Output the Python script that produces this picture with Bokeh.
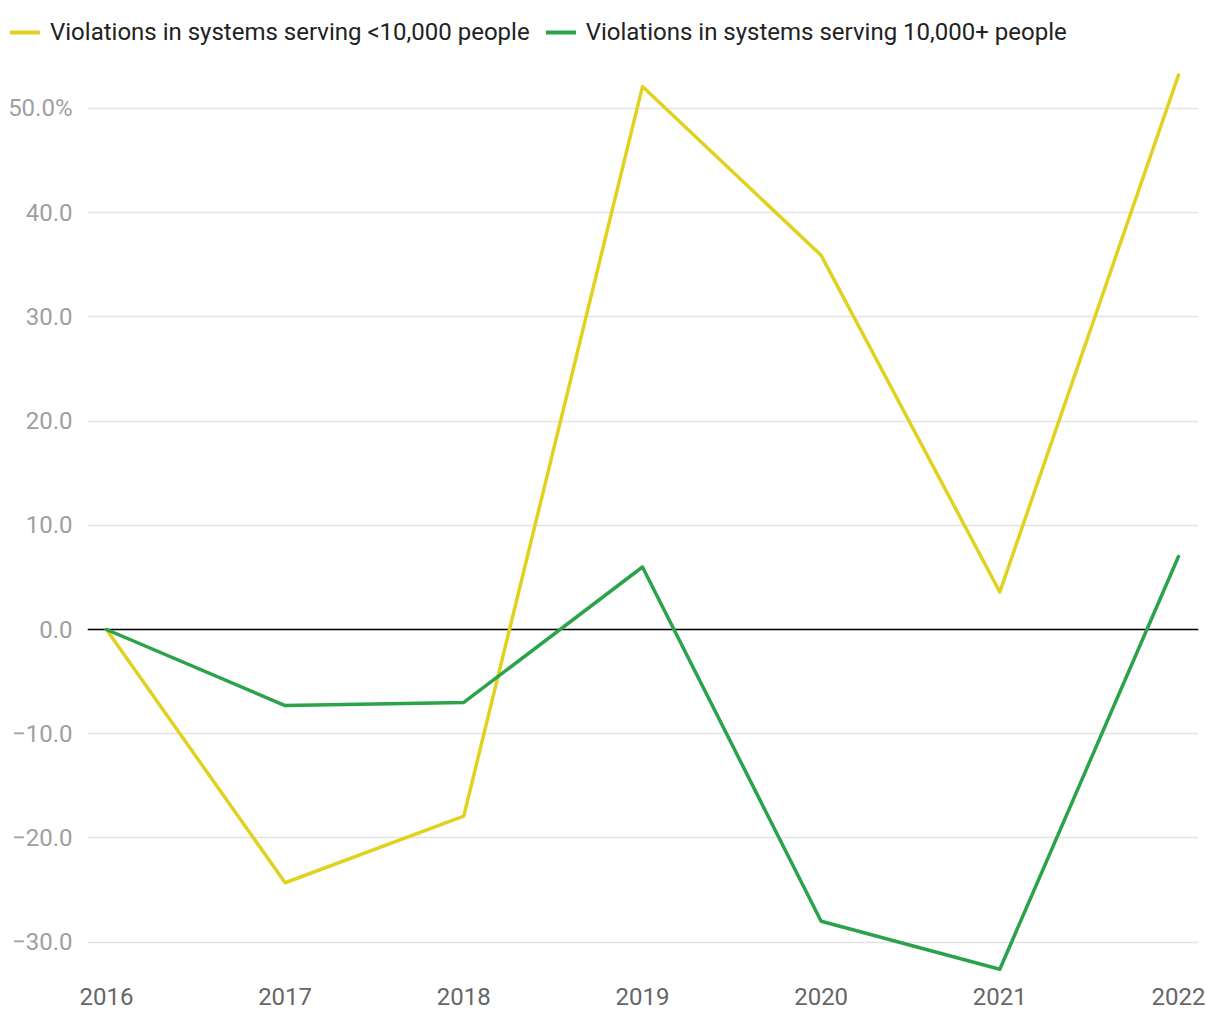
from bokeh.plotting import figure
from bokeh.models import FixedTicker, Span, Legend, LegendItem
from bokeh.embed import file_html
from bokeh.resources import INLINE

years = [2016, 2017, 2018, 2019, 2020, 2021, 2022]
small_systems = [0.0, -24.3, -17.9, 52.1, 35.9, 3.6, 53.2]
large_systems = [0.0, -7.3, -7.0, 6.0, -28.0, -32.6, 7.0]
y_ticks = [-30, -20, -10, 0, 10, 20, 30, 40, 50]
y_labels = ["\u221230.0", "\u221220.0", "\u221210.0", "0.0", "10.0", "20.0", "30.0", "40.0", "50.0%"]
series_names = ["Violations in systems serving <10,000 people",
                "Violations in systems serving 10,000+ people"]

YELLOW = "#e0d21f"
GREEN = "#2aa34b"
FONT = "Roboto"
LW = 3.5

# ---- legend strip (separate root, no frame alignment) ----
leg = figure(width=1220, height=52, output_backend="svg", toolbar_location=None,
             x_range=(0, 1), y_range=(0, 1), min_border=0)
leg.axis.visible = False
leg.grid.visible = False
leg.outline_line_color = None
nan = float("nan")
d1 = leg.line([nan], [nan], line_color=YELLOW, line_width=4, line_cap="round")
d2 = leg.line([nan], [nan], line_color=GREEN, line_width=4, line_cap="round")
legend = Legend(items=[LegendItem(label=series_names[0], renderers=[d1]),
                       LegendItem(label=series_names[1], renderers=[d2])],
                orientation="horizontal", location=(10, 6),
                label_text_font=FONT, label_text_font_size="24px", label_text_color="#222222",
                glyph_width=30, glyph_height=20, label_standoff=10, spacing=16,
                padding=0, margin=0, border_line_alpha=0, background_fill_alpha=0)
leg.add_layout(legend, "center")

# ---- main chart ----
p = figure(width=1220, height=968, output_backend="svg", toolbar_location=None,
           x_range=(2015.894, 2022.112), y_range=(-33.2, 54.6),
           min_border_left=87, min_border_right=22, min_border_top=8, min_border_bottom=45)
p.outline_line_color = None

p.yaxis.ticker = FixedTicker(ticks=y_ticks)
p.yaxis.major_label_overrides = {t: l for t, l in zip(y_ticks, y_labels)}
p.xaxis.ticker = FixedTicker(ticks=years)
for ax in (p.xaxis, p.yaxis):
    ax.axis_line_color = None
    ax.major_tick_line_color = None
    ax.minor_tick_line_color = None
    ax.major_label_text_font = FONT
    ax.major_label_text_font_size = "24px"
p.yaxis.major_label_text_color = "#a0a0a0"
p.yaxis.major_label_standoff = 9
p.xaxis.major_label_text_color = "#666666"
p.xaxis.major_label_standoff = 6

p.xgrid.grid_line_color = None
p.ygrid.grid_line_color = "#e3e3e3"
p.ygrid.grid_line_width = 1.5

p.add_layout(Span(location=0, dimension="width", line_color="black", line_width=1.5, level="underlay"))

p.line(years, small_systems, line_color=YELLOW, line_width=LW, line_join="round", line_cap="round")
p.line(years, large_systems, line_color=GREEN, line_width=LW, line_join="round", line_cap="round")

open("out.html", "w").write(file_html([leg, p], INLINE))
